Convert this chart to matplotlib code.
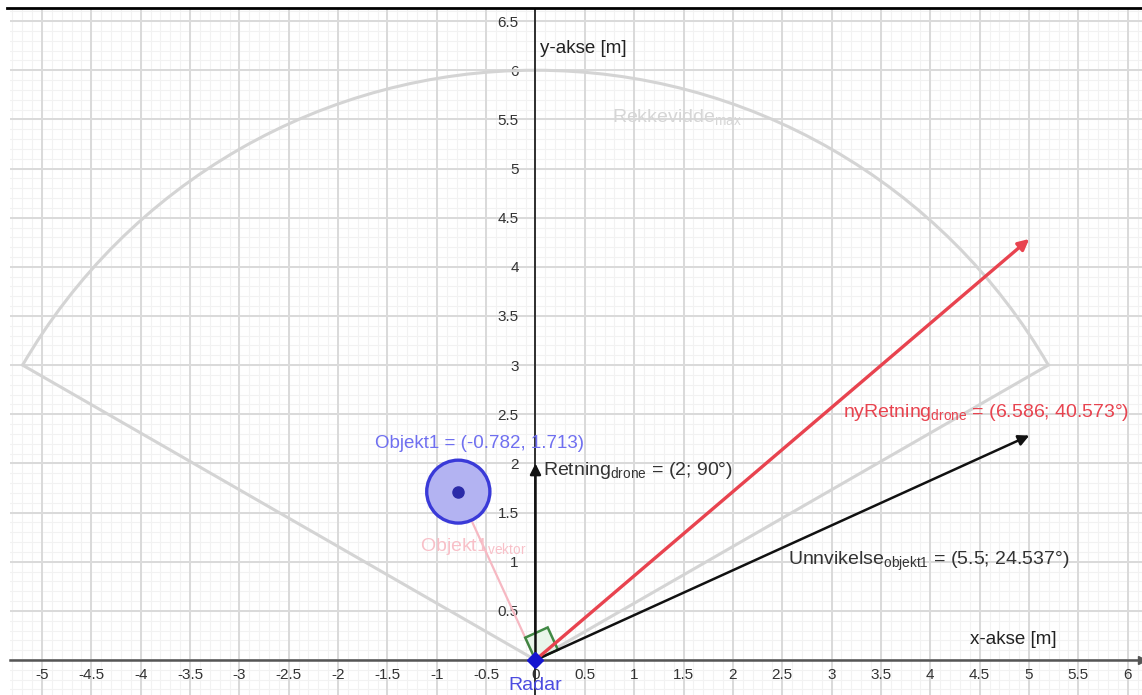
import numpy as np
import matplotlib.pyplot as plt
from matplotlib.patches import Arc, Circle, Polygon
from matplotlib.lines import Line2D

plt.rcParams['font.family'] = ['Liberation Sans', 'DejaVu Sans']
plt.rcParams['mathtext.fontset'] = 'custom'
plt.rcParams['mathtext.rm'] = 'Liberation Sans'
plt.rcParams['mathtext.default'] = 'regular'

# radar range sector (radius in m, start/end angle in degrees)
rekkevidde_max = 6.0
sektor_vinkler = [30.0, 150.0]

# detected object and its safety radius
objekt1 = [-0.782, 1.713]
objekt1_radius = 0.32

# polar vectors: (length, angle in degrees)
retning_drone = [2.0, 90.0]
unnvikelse_objekt1 = [5.5, 24.537]
ny_retning_drone = [6.586, 40.573]

x_ticks = [-5, -4.5, -4, -3.5, -3, -2.5, -2, -1.5, -1, -0.5, 0,
           0.5, 1, 1.5, 2, 2.5, 3, 3.5, 4, 4.5, 5, 5.5, 6]
y_ticks = [0.5, 1, 1.5, 2, 2.5, 3, 3.5, 4, 4.5, 5, 5.5, 6, 6.5]

FS = 14


def polar(v):
    r, a = v
    return r * np.cos(np.radians(a)), r * np.sin(np.radians(a))


def vector(ax, end, color, lw=2.0, start=(0, 0), head=16):
    ax.annotate("", xy=end, xytext=start,
                arrowprops=dict(arrowstyle='-|>', color=color, lw=lw,
                                mutation_scale=head, shrinkA=0, shrinkB=0),
                zorder=5)


fig = plt.figure(figsize=(11.42, 6.95), dpi=100)
ax = fig.add_axes([10 / 1142, 0, 1 - 10 / 1142, 686 / 695])
ax.set_xlim(-5.324, 6.145)
ax.set_ylim(-0.356, 6.623)

# grid: fine lines every 0.1, stronger every 0.5
for x in np.arange(-5.3, 6.2, 0.1):
    ax.axvline(x, color='#f2f2f2', lw=0.8, zorder=0)
for y in np.arange(-0.3, 6.7, 0.1):
    ax.axhline(y, color='#f2f2f2', lw=0.8, zorder=0)
for x in np.arange(-5.0, 6.1, 0.5):
    ax.axvline(x, color='#dadada', lw=1.4, zorder=0)
for y in np.arange(0.0, 6.6, 0.5):
    ax.axhline(y, color='#dadada', lw=1.4, zorder=0)

# axes through origin
for s in ['top', 'right']:
    ax.spines[s].set_visible(False)
ax.spines['left'].set_position(('data', 0))
ax.spines['bottom'].set_position(('data', 0))
ax.spines['left'].set_color('#222222')
ax.spines['bottom'].set_color('#555555')
ax.spines['left'].set_linewidth(1.3)
ax.spines['bottom'].set_linewidth(1.8)
ax.set_xticks(x_ticks)
ax.set_xticklabels([('%g' % t) for t in x_ticks])
ax.set_yticks(y_ticks)
ax.set_yticklabels([('%g' % t) for t in y_ticks])
ax.tick_params(axis='x', length=0, labelsize=11, colors='#333333', pad=6)
ax.tick_params(axis='y', length=0, labelsize=11, colors='#333333', pad=12)
ax.plot(6.145, 0, marker='>', color='#555555', ms=6, clip_on=False, zorder=6)
ax.text(4.4, 0.16, 'x-akse [m]', fontsize=13.5, color='#222222')
ax.text(0.05, 6.18, 'y-akse [m]', fontsize=13.5, color='#222222')

# range sector
a0, a1 = sektor_vinkler
p0 = polar([rekkevidde_max, a0])
p1 = polar([rekkevidde_max, a1])
ax.plot([0, p0[0]], [0, p0[1]], color='#d4d4d4', lw=2.2, zorder=2)
ax.plot([0, p1[0]], [0, p1[1]], color='#d4d4d4', lw=2.2, zorder=2)
ax.add_patch(Arc((0, 0), 2 * rekkevidde_max, 2 * rekkevidde_max,
                 theta1=a0, theta2=a1, color='#d4d4d4', lw=2.2, zorder=2))
ax.text(0.78, 5.52, r'Rekkevidde$_{max}$', fontsize=FS, color='#d6d6d6',
        va='center', zorder=3)

# object vector and right angle marker
ax.plot([0, objekt1[0]], [0, objekt1[1]], color='#f6b8c2', lw=1.6, zorder=3)
ax.text(-1.17, 1.15, r'Objekt1$_{vektor}$', fontsize=FS, color='#f8c0c8',
        va='center', zorder=3)
u = np.array(polar([0.25, unnvikelse_objekt1[1]]))
v = np.array(polar([0.25, unnvikelse_objekt1[1] + 90]))
ax.add_patch(Polygon([(0, 0), u, u + v, v], closed=True, facecolor='#e8f5e9',
                     edgecolor='#2e7d32', lw=1.8, alpha=0.9, zorder=4))

# object with safety circle
ax.add_patch(Circle(objekt1, objekt1_radius, facecolor='#b3b3f2',
                    edgecolor='#3a3ad8', lw=2.4, zorder=6))
ax.plot(*objekt1, 'o', color='#2b2ba8', ms=8, zorder=7)
ax.text(-1.63, 2.2, 'Objekt1 = (-0.782, 1.713)', fontsize=13.5,
        color='#6f6ff0', va='center', zorder=7)

# drone vectors
vector(ax, polar(retning_drone), '#111111', lw=1.8)
vector(ax, polar(unnvikelse_objekt1), '#111111', lw=1.8)
vector(ax, polar(ny_retning_drone), '#e8434f', lw=2.4)

ax.text(0.08, 1.93, r'Retning$_{drone}$ = (2; 90°)', fontsize=FS,
        color='#333333', va='center', zorder=7)
ax.text(3.12, 2.52, r'nyRetning$_{drone}$ = (6.586; 40.573°)', fontsize=FS,
        color='#e8434f', va='center', zorder=7)
ax.text(2.56, 1.0, r'Unnvikelse$_{objekt1}$ = (5.5; 24.537°)', fontsize=FS,
        color='#333333', va='center', zorder=7)

# radar at origin
ax.plot(0, 0, 'D', color='#1515d0', ms=8, zorder=8, clip_on=False)
ax.text(0, -0.26, 'Radar', fontsize=FS, color='#4b4be0', ha='center',
        va='center', zorder=8)

# frame line along the top
fig.add_artist(Line2D([7 / 1142, 1], [1 - 8 / 695, 1 - 8 / 695],
                      color='black', lw=2))

fig.savefig('out.png', dpi=100)
